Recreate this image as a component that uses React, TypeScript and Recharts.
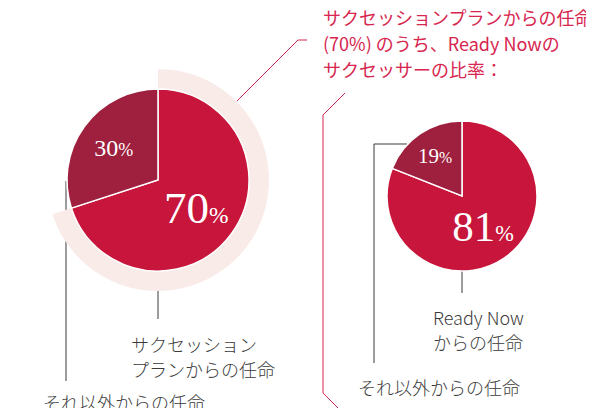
import React from "react";
import { PieChart, Pie, Cell, Customized } from "recharts";

// share of appointments
const planSplit = [
  { name: "サクセッションプランからの任命", value: 70 },
  { name: "それ以外からの任命", value: 30 },
];
const readyNowSplit = [
  { name: "Ready Nowからの任命", value: 81 },
  { name: "それ以外からの任命", value: 19 },
];
// background ring shows the 70% share carried into the right chart
const ringSplit = [
  { name: "plan", value: 70 },
  { name: "rest", value: 30 },
];

const titleLines = ["サクセッションプランからの任命", "(70%) のうち、Ready Nowの", "サクセッサーの比率："];
const leftMainLabel = ["サクセッション", "プランからの任命"];
const rightMainLabel = ["Ready Now", "からの任命"];
const otherLabel = "それ以外からの任命";

const MAIN = "#c8153b";
const DARK = "#9e1f3e";
const RING = "#f9ebe8";
const PINK = "#d7264f";
const INK = "#3a3a3a";
const JP = "'Noto Sans CJK JP', 'Noto Sans', sans-serif";
const SERIF = "'Liberation Serif', 'DejaVu Serif', serif";

const RAD = Math.PI / 180;

// percentage label inside each slice; first slice gets the large number
function makeLabel(bigSize: number, smallSize: number, bigDist: number, smallDist: number) {
  // eslint-disable-next-line @typescript-eslint/no-explicit-any
  return (p: any) => {
    const main = p.index === 0;
    const r = p.outerRadius * (main ? bigDist : smallDist);
    const x = p.cx + r * Math.cos(-p.midAngle * RAD);
    const y = p.cy + r * Math.sin(-p.midAngle * RAD);
    const fs = main ? bigSize : smallSize;
    return (
      <text x={x} y={y + fs * 0.33} textAnchor="middle" fill="#fff" fontFamily={SERIF}>
        <tspan fontSize={fs}>{p.value}</tspan>
        <tspan fontSize={fs * (main ? 0.52 : 0.75)}>%</tspan>
      </text>
    );
  };
}

function Overlay() {
  return (
    <g>
      {/* leader from ring to title */}
      <polyline points="237,101 298,40 307,40" fill="none" stroke={PINK} strokeWidth={1} />
      {titleLines.map((t, i) => (
        <text key={i} x={323} y={25 + i * 26} fontSize={18} fill={PINK} fontFamily={JP}>{t}</text>
      ))}
      {/* frame corners */}
      <polyline points="345,93 323,115 323,393 346,416" fill="none" stroke={PINK} strokeWidth={1} />
      <line x1={589} y1={94} x2={596} y2={101} stroke={PINK} strokeWidth={1} />
      <line x1={587} y1={416} x2={596} y2={407} stroke={PINK} strokeWidth={1} />

      {/* left leaders */}
      <line x1={158} y1={271} x2={158} y2={319} stroke={INK} strokeWidth={1} />
      <line x1={66} y1={181} x2={66} y2={381} stroke={INK} strokeWidth={1} />
      {leftMainLabel.map((t, i) => (
        <text key={i} x={131} y={352 + i * 25} fontSize={18} fill={INK} fontFamily={JP} fontWeight={300}>{t}</text>
      ))}
      <text x={43} y={410} fontSize={18} fill={INK} fontFamily={JP} fontWeight={300}>{otherLabel}</text>

      {/* right leaders */}
      <line x1={462} y1={271} x2={462} y2={293} stroke={INK} strokeWidth={1} />
      <polyline points="407,144 374,144 374,363" fill="none" stroke={INK} strokeWidth={1} />
      {rightMainLabel.map((t, i) => (
        <text key={i} x={433} y={325 + i * 25} fontSize={18} fill={INK} fontFamily={JP} fontWeight={300}>{t}</text>
      ))}
      <text x={358} y={395} fontSize={18} fill={INK} fontFamily={JP} fontWeight={300}>{otherLabel}</text>
    </g>
  );
}

export default function App() {
  return (
    <div style={{ width: 594, height: 416, margin: -8, background: "#fff" }}>
      <PieChart width={594} height={416} margin={{ top: 0, right: 0, bottom: 0, left: 0 }}>
        <Pie
          data={ringSplit}
          dataKey="value"
          cx={158}
          cy={180}
          innerRadius={91}
          outerRadius={111}
          startAngle={90}
          endAngle={-270}
          stroke="none"
          isAnimationActive={false}
        >
          <Cell fill={RING} />
          <Cell fill="transparent" />
        </Pie>
        <Pie
          data={planSplit}
          dataKey="value"
          cx={158}
          cy={180}
          outerRadius={91}
          startAngle={90}
          endAngle={-270}
          stroke="#fff"
          strokeWidth={1.5}
          labelLine={false}
          label={makeLabel(45, 24, 0.52, 0.6)}
          isAnimationActive={false}
        >
          <Cell fill={MAIN} />
          <Cell fill={DARK} />
        </Pie>
        <Pie
          data={readyNowSplit}
          dataKey="value"
          cx={462}
          cy={196}
          outerRadius={75}
          startAngle={90}
          endAngle={-270}
          stroke="#fff"
          strokeWidth={1.5}
          labelLine={false}
          label={makeLabel(43, 21, 0.5, 0.64)}
          isAnimationActive={false}
        >
          <Cell fill={MAIN} />
          <Cell fill={DARK} />
        </Pie>
        <Customized component={Overlay} />
      </PieChart>
    </div>
  );
}
